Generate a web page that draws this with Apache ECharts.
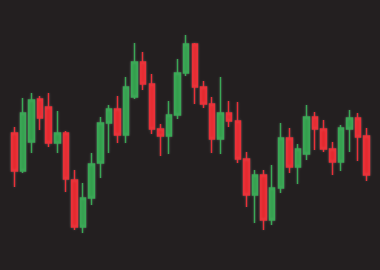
<!DOCTYPE html>
<html>
<head>
<meta charset="utf-8">
<script src="https://cdn.jsdelivr.net/npm/echarts@6/dist/echarts.min.js"></script>
<style>
html,body{margin:0;padding:0;background:#231f20;}
#c{width:380px;height:270px;}
</style>
</head>
<body>
<div id="c"></div>
<script>
const categories = Array.from({length: 42}, (_, i) => 'D' + (i + 1));
const openV  = [137, 99,128,171,163,127,137, 90, 43, 72,107,147,161,135,173,208,186,141,134,155,197,226,183,166,131,157,149,111, 75, 95, 50, 82,132,103,116,153,141,121,108,141,152,134];
const closeV = [ 99,157,170,152,127,137, 91, 43, 72,106,147,161,135,183,208,186,141,134,155,197,226,183,166,131,157,149,111, 75, 95, 50, 82,132,103,121,153,141,121,108,142,152,133, 95];
const lowV   = [ 83, 97,117,140,123,117, 78, 40, 37, 65, 92,117,127,127,171,180,136,114,116,151,194,166,162,117,116,143,107, 63, 47, 40, 45, 77, 97, 86,110,120,118, 95, 99,118,109, 89];
const highV  = [143,172,177,174,177,159,139,100, 87,117,153,165,174,193,227,218,196,146,169,211,235,227,189,173,193,169,168,118,100,100,105,147,142,126,165,158,150,128,145,160,157,142];

const data = categories.map((_, i) => [openV[i], closeV[i], lowV[i], highV[i]]);

const chart = echarts.init(document.getElementById('c'), null, {renderer: 'canvas'});
chart.setOption({
  backgroundColor: '#231f20',
  animation: false,
  grid: {left: 10, right: 9, top: 0, bottom: 0},
  xAxis: {type: 'category', data: categories, show: false, boundaryGap: true},
  yAxis: {type: 'value', min: 0, max: 270, show: false},
  series: [{
    type: 'candlestick',
    data: data,
    barWidth: 6,
    itemStyle: {
      color: '#2f9e4a',
      color0: '#e5252b',
      borderColor: '#3aa856',
      borderColor0: '#ea3038',
      borderWidth: 1.5,
      shadowBlur: 3,
      shadowColor: 'rgba(255,255,255,0.18)'
    }
  }]
});
</script>
</body>
</html>
